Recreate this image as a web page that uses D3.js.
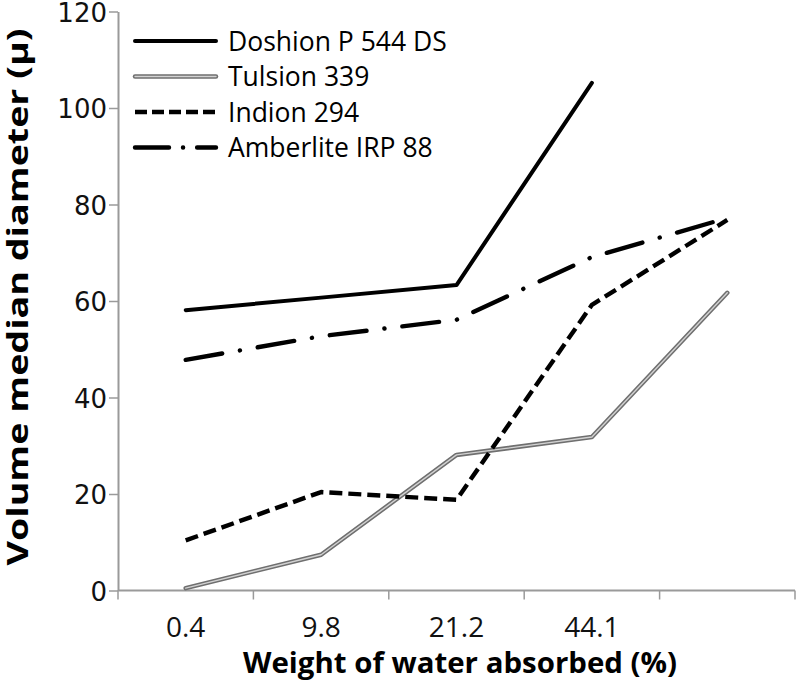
<!DOCTYPE html>
<html><head><meta charset="utf-8">
<script src="https://cdn.jsdelivr.net/npm/d3@7/dist/d3.min.js"></script>
<style>html,body{margin:0;padding:0;background:#fff;}</style>
</head><body>
<svg id="chart" width="799" height="682"></svg>
<script>
const categories = ["0.4", "9.8", "21.2", "44.1", ""];
const doshion   = [58.1, 60.7, 63.3, 105.2, null];
const tulsion   = [0.5, 7.4, 28.1, 31.8, 61.7];
const indion    = [10.4, 20.4, 18.8, 59.2, 76.8];
const amberlite = [47.8, 52.7, 56.1, 69.1, 77.2];
const seriesNames = ["Doshion P 544 DS", "Tulsion 339", "Indion 294", "Amberlite IRP 88"];
const yTicks = [0, 20, 40, 60, 80, 100, 120];

const svg = d3.select("#chart");
const x = d3.scaleBand().domain(categories).range([118, 795]);
const y = d3.scaleLinear().domain([0, 120]).range([590.5, 11.5]);
const axisColor = "#9a9a9a";

// Y axis
const yAxis = svg.append("g").attr("transform", "translate(118,0)")
  .call(d3.axisLeft(y).tickValues(yTicks).tickSize(9).tickSizeOuter(0).tickPadding(2));
yAxis.select(".domain").attr("stroke", axisColor).attr("stroke-width", 2);
yAxis.selectAll(".tick line").attr("stroke", axisColor).attr("stroke-width", 1.5);
yAxis.selectAll(".tick text").attr("font-family", "DejaVu Sans").attr("font-size", 26).attr("fill", "#111").attr("dy", "0.38em");

// X axis: line + boundary ticks + centred labels
const xg = svg.append("g").attr("transform", "translate(0,590.5)");
xg.append("line").attr("x1", x.range()[0]).attr("x2", x.range()[1]).attr("stroke", axisColor).attr("stroke-width", 2);
const bounds = categories.map(c => x(c)).concat([x.range()[1]]);
xg.selectAll("line.tk").data(bounds).enter().append("line").attr("class", "tk")
  .attr("x1", d => d).attr("x2", d => d).attr("y1", 0).attr("y2", 9)
  .attr("stroke", axisColor).attr("stroke-width", 1.5);
xg.selectAll("text.tl").data(categories).enter().append("text").attr("class", "tl")
  .attr("x", d => x(d) + x.bandwidth() / 2).attr("y", 46.5)
  .attr("text-anchor", "middle").attr("font-family", "Open Sans").attr("font-size", 28).attr("fill", "#111")
  .text(d => d);

// Axis titles
svg.append("text").attr("x", 460).attr("y", 673).attr("text-anchor", "middle")
  .attr("font-family", "Open Sans").attr("font-weight", "bold").attr("font-size", 29)
  .attr("textLength", 434).attr("lengthAdjust", "spacingAndGlyphs").attr("fill", "#000")
  .text("Weight of water absorbed (%)");
svg.append("text").attr("transform", "translate(28,297) rotate(-90)").attr("text-anchor", "middle")
  .attr("font-family", "Open Sans").attr("font-weight", "bold").attr("font-size", 28)
  .attr("textLength", 537).attr("lengthAdjust", "spacingAndGlyphs").attr("fill", "#000")
  .text("Volume median diameter (μ)");

// Lines
const line = d3.line().defined(d => d.v !== null)
  .x(d => x(d.c) + x.bandwidth() / 2).y(d => y(d.v));
const toPts = arr => categories.map((c, i) => ({c: c, v: arr[i]}));

const styles = [
  {data: doshion, layers: [{stroke: "#000", w: 4, dash: null}]},
  {data: tulsion, layers: [{stroke: "#6f6f6f", w: 4.5, dash: null}, {stroke: "#d2d2d2", w: 1.4, dash: null}]},
  {data: indion, layers: [{stroke: "#000", w: 4.4, dash: "13,6", cap: "butt"}]},
  {data: amberlite, layers: [{stroke: "#000", w: 4.4, dash: "37,18,0.1,18", cap: "round"}]}
];
const plot = svg.append("g");
styles.forEach(s => {
  s.layers.forEach(l => {
    plot.append("path").datum(toPts(s.data)).attr("d", line)
      .attr("fill", "none").attr("stroke", l.stroke).attr("stroke-width", l.w)
      .attr("stroke-linejoin", "round").attr("stroke-linecap", l.cap || "round")
      .attr("stroke-dasharray", l.dash);
  });
});

// Legend
const legendRows = [41, 76.5, 112, 147.5];
const legendDash = [null, null, "12,5", "34,14,0.1,14"];
styles.forEach((s, i) => {
  const g = svg.append("g").attr("transform", `translate(0,${legendRows[i]})`);
  s.layers.forEach(l => {
    g.append("line").attr("x1", 135).attr("x2", 216).attr("stroke", l.stroke).attr("stroke-width", l.w)
      .attr("stroke-linecap", l.cap || "round").attr("stroke-dasharray", legendDash[i]);
  });
  g.append("text").attr("x", 228).attr("y", 9.5).attr("font-family", "Open Sans").attr("font-size", 26.5)
    .attr("fill", "#000").text(seriesNames[i]);
});
</script>
</body></html>
